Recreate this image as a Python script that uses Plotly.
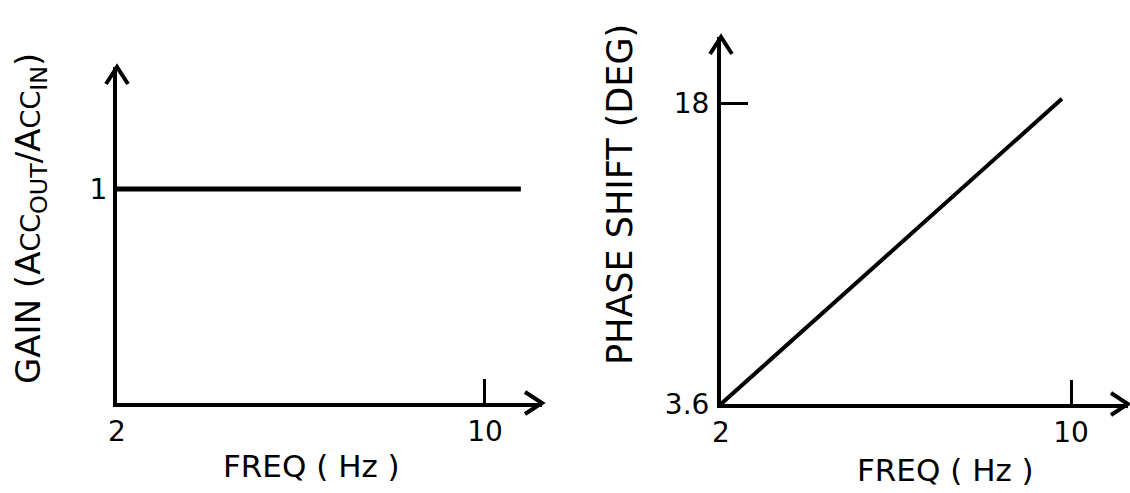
import plotly.graph_objects as go

# ---- data ----
gain_freq = [2, 10.78]
gain_values = [1, 1]
phase_freq = [2, 9.79]
phase_values = [3.6, 18.2]

gain_xticks = [2, 10]
gain_xticktext = ["2", "10"]
gain_yticks = [1]
gain_yticktext = ["1"]
phase_xticks = [2, 10]
phase_xticktext = ["2", "10"]
phase_yticks = [3.6, 18]
phase_yticktext = ["3.6", "18"]

W, H = 1130, 493
FONT = "DejaVu Sans"

def px_x(p):
    return p / W

def px_y(p):
    return 1 - p / H

L_XR = [2, 11.24]
L_YR = [0, 1.57]
R_XR = [2, 11.30]
R_YR = [3.6, 21.16]

L_XD = [px_x(117), px_x(542)]
L_YD = [px_y(403), px_y(67)]
R_XD = [px_x(721), px_x(1128)]
R_YD = [px_y(404), px_y(37)]

fig = go.Figure()
fig.add_trace(go.Scatter(x=gain_freq, y=gain_values, mode="lines",
                         line=dict(color="black", width=5),
                         xaxis="x", yaxis="y", showlegend=False, hoverinfo="skip"))
fig.add_trace(go.Scatter(x=phase_freq, y=phase_values, mode="lines",
                         line=dict(color="black", width=4),
                         xaxis="x2", yaxis="y2", showlegend=False, hoverinfo="skip"))

axis_common = dict(showgrid=False, zeroline=False, showline=True,
                   linecolor="black", linewidth=4, tickcolor="black",
                   tickmode="array", fixedrange=True, automargin=False,
                   tickfont=dict(family=FONT, size=28, color="black"))

fig.update_layout(
    width=W, height=H, autosize=False,
    margin=dict(l=0, r=0, t=0, b=0, pad=0, autoexpand=False),
    paper_bgcolor="white", plot_bgcolor="white",
    showlegend=False,
    xaxis=dict(axis_common, domain=L_XD, range=L_XR,
               tickvals=gain_xticks, ticktext=gain_xticktext,
               ticks="inside", ticklen=24, tickwidth=2.5, anchor="y",
               ticklabelstandoff=0),
    yaxis=dict(axis_common, domain=L_YD, range=L_YR,
               tickvals=gain_yticks, ticktext=gain_yticktext,
               ticks="", anchor="x", ticklabelstandoff=0),
    xaxis2=dict(axis_common, domain=R_XD, range=R_XR,
                tickvals=phase_xticks, ticktext=phase_xticktext,
                ticks="inside", ticklen=24, tickwidth=2.5, anchor="y2",
                ticklabelstandoff=0),
    yaxis2=dict(axis_common, domain=R_YD, range=R_YR,
                tickvals=phase_yticks, ticktext=phase_yticktext,
                ticks="inside", ticklen=27, tickwidth=3, anchor="x2",
                ticklabelstandoff=2),
)

# open chevron arrowheads at the axis tips
X_HEAD = "M-17,11 L0,0 L-17,-11"
Y_HEAD = "M-11,-17 L0,0 L11,-17"
heads = [
    (L_XD[1], L_YD[0], X_HEAD),
    (L_XD[0], L_YD[1], Y_HEAD),
    (R_XD[1], R_YD[0], X_HEAD),
    (R_XD[0], R_YD[1], Y_HEAD),
]
for xa, ya, path in heads:
    fig.add_shape(type="path", xref="paper", yref="paper",
                  xsizemode="pixel", ysizemode="pixel",
                  xanchor=xa, yanchor=ya, path=path,
                  line=dict(color="black", width=4))

fig.add_annotation(xref="paper", yref="paper", x=px_x(311), y=px_y(466),
                   text="FREQ ( Hz )", showarrow=False,
                   font=dict(family=FONT, size=31, color="black"),
                   xanchor="center", yanchor="middle")
fig.add_annotation(xref="paper", yref="paper", x=px_x(945), y=px_y(470),
                   text="FREQ ( Hz )", showarrow=False,
                   font=dict(family=FONT, size=31, color="black"),
                   xanchor="center", yanchor="middle")
fig.add_annotation(xref="paper", yref="paper", x=px_x(30), y=px_y(219),
                   text="GAIN (A<span style='font-size:27px'>CC</span><sub>OUT</sub>/A<span style='font-size:27px'>CC</span><sub>IN</sub>)",
                   showarrow=False, font=dict(family=FONT, size=34, color="black"),
                   textangle=-90, xanchor="center", yanchor="middle")
fig.add_annotation(xref="paper", yref="paper", x=px_x(620), y=px_y(195),
                   text="PHASE SHIFT (DEG)", showarrow=False,
                   font=dict(family=FONT, size=35, color="black"),
                   textangle=-90, xanchor="center", yanchor="middle")

fig.write_html("out.html", config={"responsive": False})
